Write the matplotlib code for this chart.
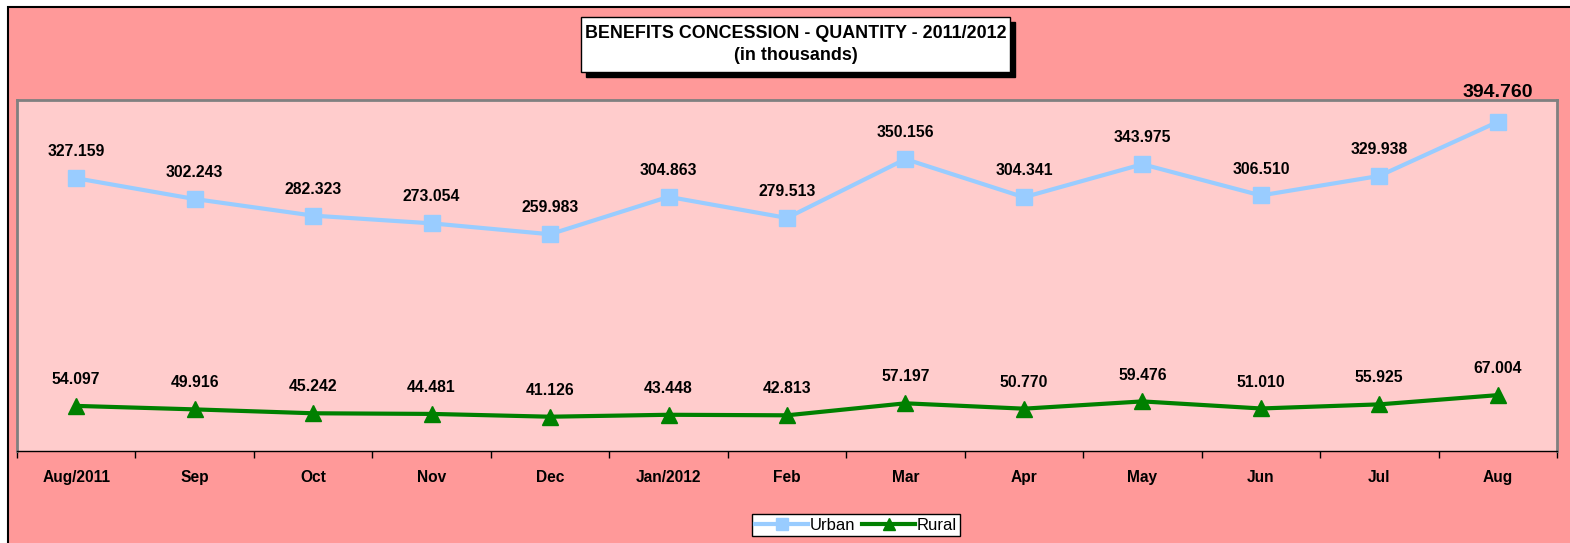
import matplotlib.pyplot as plt
from matplotlib.patches import Rectangle
import numpy as np

plt.rcParams['font.family'] = ['Liberation Sans', 'DejaVu Sans']

months = ["Aug/2011", "Sep", "Oct", "Nov", "Dec", "Jan/2012", "Feb",
          "Mar", "Apr", "May", "Jun", "Jul", "Aug"]
urban = [327.159, 302.243, 282.323, 273.054, 259.983, 304.863, 279.513,
         350.156, 304.341, 343.975, 306.510, 329.938, 394.760]
rural = [54.097, 49.916, 45.242, 44.481, 41.126, 43.448, 42.813,
         57.197, 50.770, 59.476, 51.010, 55.925, 67.004]

W, H = 1570, 543
fig = plt.figure(figsize=(W / 100, H / 100), dpi=100)
fig.patch.set_facecolor("white")

# outer pink frame (cut off right and bottom)
fig.patches.append(Rectangle((8 / W, -0.1), 1.2, 1 - 7 / H + 0.1,
                             transform=fig.transFigure, facecolor="#FF9999",
                             edgecolor="black", linewidth=1.5, zorder=0))

ax = fig.add_axes([17 / W, (H - 451) / H, 1540 / W, 351 / H])
ax.set_zorder(5)
ax.set_facecolor("#FFCCCC")

x = np.arange(len(months))
ax.plot(x, urban, color="#99CCFF", lw=3, marker="s", ms=11,
        label="Urban", zorder=3)
ax.plot(x, rural, color="#008000", lw=3, marker="^", ms=11,
        label="Rural", zorder=3)

for i, v in enumerate(urban):
    big = i == len(urban) - 1
    ax.annotate(f"{v:.3f}", (i, v), xytext=(0, 21 if big else 19),
                textcoords="offset points", ha="center", va="center",
                fontsize=14 if big else 11.3, fontweight="bold",
                annotation_clip=False)
for i, v in enumerate(rural):
    ax.annotate(f"{v:.3f}", (i, v), xytext=(0, 19),
                textcoords="offset points", ha="center", va="center",
                fontsize=11.3, fontweight="bold")

ax.set_xlim(-0.5, len(months) - 0.5)
ax.set_ylim(0, 421)
ax.set_yticks([])
ax.set_xticks(x)
ax.set_xticklabels(months, fontsize=11.2, fontweight="bold")
ax.set_xticks(np.arange(-0.5, len(months)), minor=True)
ax.tick_params(axis="x", which="major", length=0, pad=14)
ax.tick_params(axis="x", which="minor", length=5, width=1, direction="out")
for s in ["left", "top", "right"]:
    ax.spines[s].set_color("#808080")
    ax.spines[s].set_linewidth(2)
ax.spines["bottom"].set_color("black")
ax.spines["bottom"].set_linewidth(1)

# title box with shadow
bx, by, bw, bh = 581, 17, 429, 55
fig.patches.append(Rectangle(((bx + 5) / W, 1 - (by + bh + 5) / H), bw / W, bh / H,
                             transform=fig.transFigure, facecolor="black",
                             edgecolor="black", zorder=1))
fig.patches.append(Rectangle((bx / W, 1 - (by + bh) / H), bw / W, bh / H,
                             transform=fig.transFigure, facecolor="white",
                             edgecolor="black", linewidth=1, zorder=2))
fig.text((bx + bw / 2) / W, 1 - (by + bh / 2) / H,
         "BENEFITS CONCESSION - QUANTITY - 2011/2012\n(in thousands)",
         ha="center", va="center", fontsize=12.9, fontweight="bold",
         linespacing=1.45, zorder=3)

leg = fig.legend(loc="center", bbox_to_anchor=(856 / W, 1 - 525 / H),
                 ncol=2, fontsize=12, frameon=True, fancybox=False,
                 edgecolor="black", framealpha=1, handlelength=3.2,
                 handletextpad=0.1, columnspacing=0.4, borderpad=0.2,
                 markerscale=0.8)
leg.get_frame().set_linewidth(1)
leg.set_zorder(6)

fig.savefig("out.png", dpi=100, facecolor=fig.get_facecolor())
